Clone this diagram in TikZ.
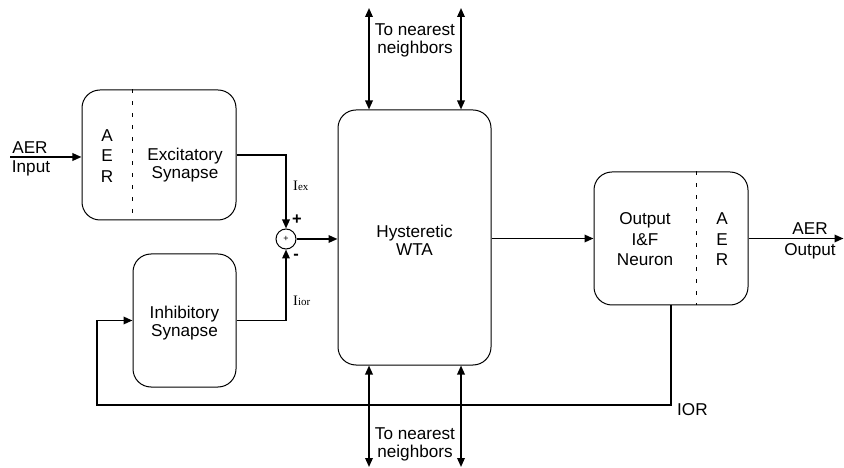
\documentclass[tikz,border=0pt]{standalone}
\usepackage{fontspec}
\setmainfont{Liberation Sans}
\newfontfamily\serifi{Liberation Serif}
\usetikzlibrary{arrows.meta}
\begin{document}
\begin{tikzpicture}[x=1bp,y=-1bp,
  blk/.style={draw, line width=1bp, rounded corners=18bp, inner sep=0pt},
  tip/.tip={Triangle[length=9bp,width=7.5bp]},
  conn/.style={line width=1.7bp, -tip},
  dconn/.style={line width=1.7bp, tip-tip},
  sepline/.style={line width=1bp, dash pattern=on 4bp off 8bp},
  lbl/.style={font=\fontsize{17.2}{18}\selectfont, align=center, inner sep=0pt},
  lblw/.style={font=\fontsize{17.2}{20.5}\selectfont, align=center, inner sep=0pt},
  sublbl/.style={font=\serifi\fontsize{14.5}{14.5}\selectfont, inner sep=0pt, anchor=base west},
  sgn/.style={font=\bfseries\fontsize{16.5}{16.5}\selectfont, inner sep=0pt}
]
\useasboundingbox (0,0) rectangle (844,468);

% blocks
\node[blk, minimum width=154bp, minimum height=130bp] (exc) at (159,155) {};
\node[blk, minimum width=103bp, minimum height=133bp] (inh) at (184.5,320.5) {};
\node[blk, minimum width=153bp, minimum height=255bp] (wta) at (414.5,237.5) {};
\node[blk, minimum width=154bp, minimum height=133bp] (neu) at (671,238.5) {};
\node[draw, circle, line width=1bp, minimum size=20bp, inner sep=0pt,
      font=\fontsize{9}{9}\selectfont] (sum) at (286,239) {+};

% dashed separators
\draw[sepline] ([xshift=51bp]exc.north west) -- ([xshift=51bp]exc.south west);
\draw[sepline] ([xshift=103bp]neu.north west) -- ([xshift=103bp]neu.south west);

% block texts
\node[lbl] (exct) at (185,165) {Excitatory\\Synapse};
\node[lblw] (exca) at (107,156) {A\\E\\R};
\node[lbl] (inht) at (184.5,323) {Inhibitory\\Synapse};
\node[lbl] (wtat) at (414.5,240) {Hysteretic\\WTA};
\node[lblw] (neut) at (645,239.5) {Output\\I\&F\\Neuron};
\node[lblw] (neua) at (722,239.5) {A\\E\\R};

% input
\coordinate (inp) at (10,157);
\draw[conn] (inp) -- (inp -| exc.west);
\node[lbl, anchor=base] (inpa) at (30,154) {AER};
\node[lbl, anchor=base] (inpb) at (31,173) {Input};

% synapses to summing node
\draw[conn] (exc.east) -| (sum.north);
\draw[conn] (inh.east) -| (sum.south);
\node[sublbl] (iex) at (293,190.5) {I{\fontsize{11}{11}\selectfont ex}};
\node[sublbl] (iior) at (293,305.5) {I{\fontsize{11}{11}\selectfont ior}};
\node[sgn] (plus) at (297,220) {+};
\node[sgn] (minus) at (296,257) {-};

% sum to WTA, WTA to neuron
\draw[conn] (sum.east) -- (sum.east -| wta.west);
\draw[conn] (wta.east |- neu.west) -- (neu.west);

% output
\coordinate (outp) at (843.5,238.5);
\draw[conn] (neu.east) -- (outp);
\node[lbl, anchor=base] (outa) at (810,235) {AER};
\node[lbl, anchor=base] (outb) at (810,256) {Output};

% nearest neighbours
\coordinate (t1) at (369,8);
\coordinate (t2) at (461,8);
\coordinate (b1) at (369,467);
\coordinate (b2) at (461,467);
\draw[dconn] (t1) -- (t1 |- wta.north);
\draw[dconn] (t2) -- (t2 |- wta.north);
\draw[dconn] (b1) -- (b1 |- wta.south);
\draw[dconn] (b2) -- (b2 |- wta.south);
\node[lbl] (tnn) at (415,40) {To nearest\\neighbors};
\node[lbl] (bnn) at (415,444.5) {To nearest\\neighbors};

% feedback (IOR)
\coordinate (fbl) at (97,405);
\draw[conn] (neu.south) |- (fbl) |- (inh.west);
\node[lbl, anchor=base west] (ior) at (677,415) {IOR};
\end{tikzpicture}
\end{document}
